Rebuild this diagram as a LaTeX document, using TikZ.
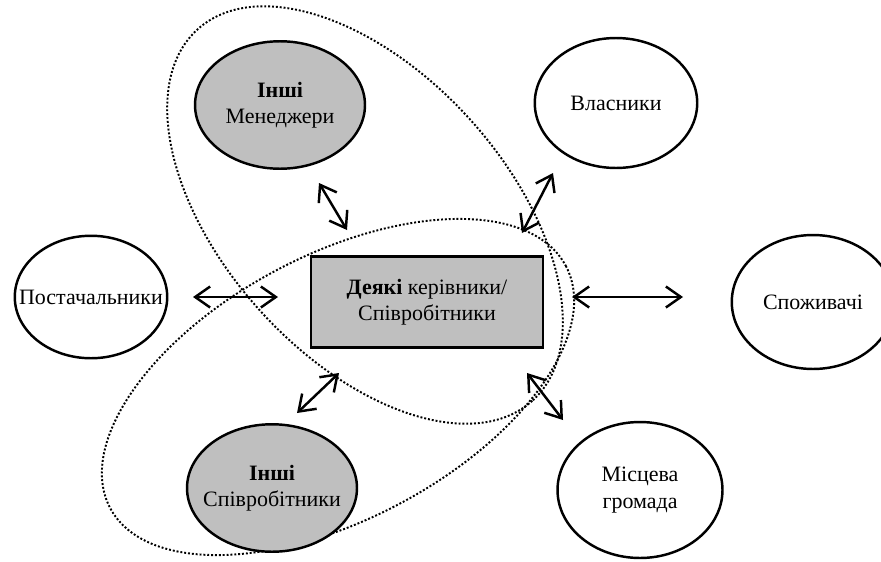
\documentclass[tikz,border=0pt]{standalone}
\usepackage{fontspec}
\setmainfont{Liberation Serif}
\usetikzlibrary{shapes.geometric,arrows.meta}

\begin{document}
\begin{tikzpicture}[x=0.02cm, y=-0.02cm, font=\fontsize{12.5pt}{15pt}\selectfont,
  party/.style={shape=ellipse, draw=black, line width=1.4pt, inner xsep=-15pt, inner ysep=0pt, minimum width=3.25cm, minimum height=2.6cm, align=center},
  staff/.style={party, fill=black!25, minimum width=3.4cm, minimum height=2.55cm},
  group/.style={draw=black, line width=1.1pt, dash pattern=on 1.1pt off 1.1pt},
  link/.style={{Straight Barb[length=3mm,width=4.2mm]}-{Straight Barb[length=3mm,width=4.2mm]}, line width=1.4pt}]
\clip (0,0) rectangle (881,561);
\fill[white] (0,0) rectangle (881,561);
% dotted groups
\draw[group, shift={(365,215)}, rotate=-48] (0,0) ellipse [x radius=250, y radius=142];
\draw[group, shift={(338,387)}, rotate=28] (0,0) ellipse [x radius=258, y radius=132];
% stakeholders
\node[staff] (mgr) at (280,105) {\textbf{Інші}\\Менеджери};
\node[staff] (emp) at (272,488) {\textbf{Інші}\\Співробітники};
\node[party] (own) at (616,103) {Власники};
\node[party, minimum width=3.05cm, minimum height=2.45cm] (sup) at (91,297) {Постачальники};
\node[party, minimum height=2.68cm] (cons) at (813,302) {Споживачі};
\node[party, minimum width=3.3cm, minimum height=2.72cm] (comm) at (640,490) {Місцева\\громада};
\node[draw=black, line width=1.6pt, fill=black!25, minimum width=4.64cm, minimum height=1.82cm, align=center] (core) at (427,302) {\textbf{Деякі} керівники/\\Співробітники};
% arrow ends
\coordinate (mgrA) at (319,183);  \coordinate (mgrB) at (347,230);
\coordinate (ownA) at (522,233);  \coordinate (ownB) at (553,173);
\coordinate (supA) at (193,297);  \coordinate (supB) at (278,297);
\coordinate (consA) at (572,297); \coordinate (consB) at (683,297);
\coordinate (empA) at (297,413);  \coordinate (empB) at (339,373);
\coordinate (commA) at (527,373); \coordinate (commB) at (563,420);
\draw [link] (mgrA) -- (mgrB);
\draw [link] (ownA) -- (ownB);
\draw [link] (supA) -- (supB);
\draw [link] (consA) -- (consB);
\draw [link] (empA) -- (empB);
\draw [link] (commA) -- (commB);
\end{tikzpicture}
\end{document}
